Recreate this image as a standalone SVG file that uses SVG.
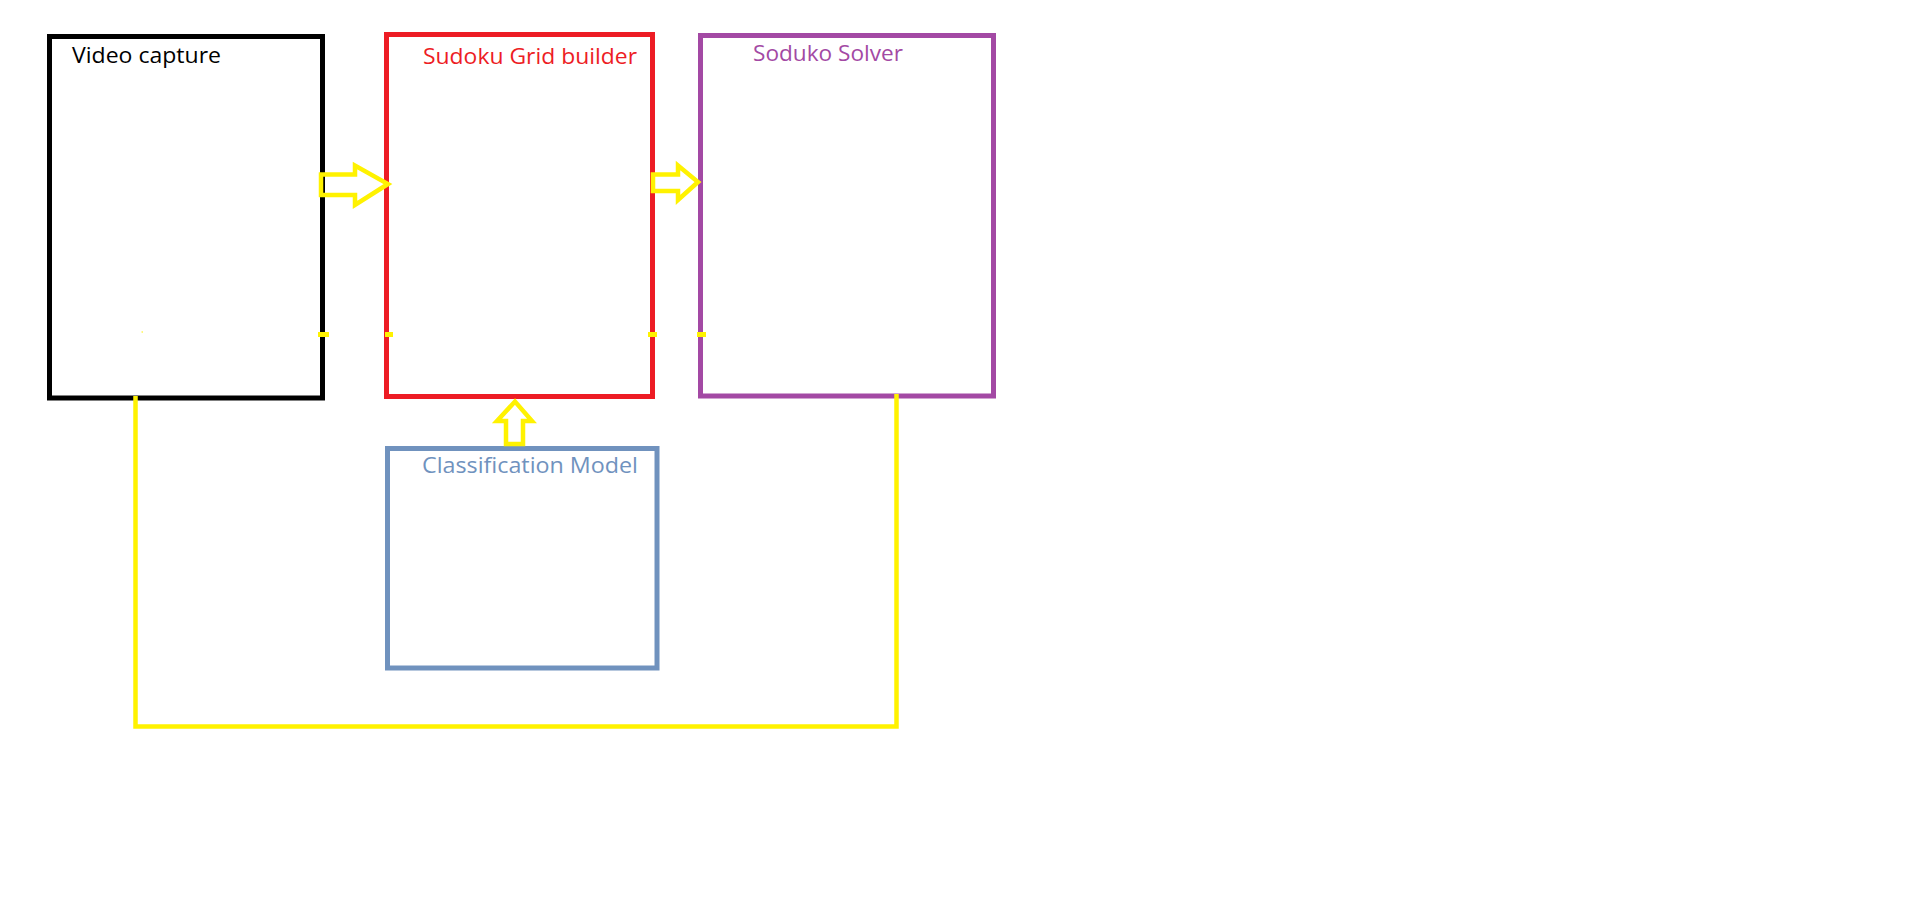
<svg xmlns="http://www.w3.org/2000/svg" width="1914" height="903" viewBox="0 0 1914 903">
<style>
.box{fill:none;stroke-width:5}
.lbl{font-family:"Open Sans","Liberation Sans",sans-serif;font-size:22px}
.conn{fill:none;stroke:#FFF200;stroke-width:4.5;stroke-linejoin:miter}
.tick{fill:#FFF200}
</style>
<rect width="1914" height="903" fill="#FFFFFF"/>
<g id="video-capture">
<rect class="box" x="49.5" y="36.5" width="273" height="361.5" stroke="#000000"/>
<text class="lbl" x="72" y="63" fill="#000000" textLength="149" lengthAdjust="spacingAndGlyphs">Video capture</text>
</g>
<g id="sudoku-grid-builder">
<rect class="box" x="386.5" y="34.5" width="266" height="362" stroke="#ED1C24"/>
<text class="lbl" x="423" y="64" fill="#ED1C24" textLength="214" lengthAdjust="spacingAndGlyphs">Sudoku Grid builder</text>
</g>
<g id="soduko-solver">
<rect class="box" x="700.5" y="35.5" width="293" height="360.5" stroke="#A349A4"/>
<text class="lbl" x="753" y="61" fill="#A349A4" textLength="150" lengthAdjust="spacingAndGlyphs">Soduko Solver</text>
</g>
<g id="classification-model">
<rect class="box" x="387.5" y="448.5" width="269.5" height="219.5" stroke="#7092BE"/>
<text class="lbl" x="422" y="473" fill="#7092BE" textLength="216" lengthAdjust="spacingAndGlyphs">Classification Model</text>
</g>
<g id="connectors">
<polygon class="conn" points="321,174.5 355,174.5 355,165.5 388,184 355,205 355,195 321,195"/>
<polygon class="conn" points="653,174.5 678,174.5 678,165.5 698,182 678,200 678,191 653,191"/>
<polygon class="conn" points="506,444 506,421 497,421 515,401.5 532,421 523,421 523,444"/>
<path class="conn" d="M135.5,396 V726.5 H896.5 V394" stroke-width="5"/>
<rect class="tick" x="318" y="332" width="11" height="5"/>
<rect class="tick" x="385" y="332" width="8" height="5"/>
<rect class="tick" x="648" y="332" width="9" height="5"/>
<rect class="tick" x="697" y="332" width="9" height="5"/>
<rect class="tick" x="141.5" y="331.5" width="1.5" height="1"/>
</g>
</svg>
